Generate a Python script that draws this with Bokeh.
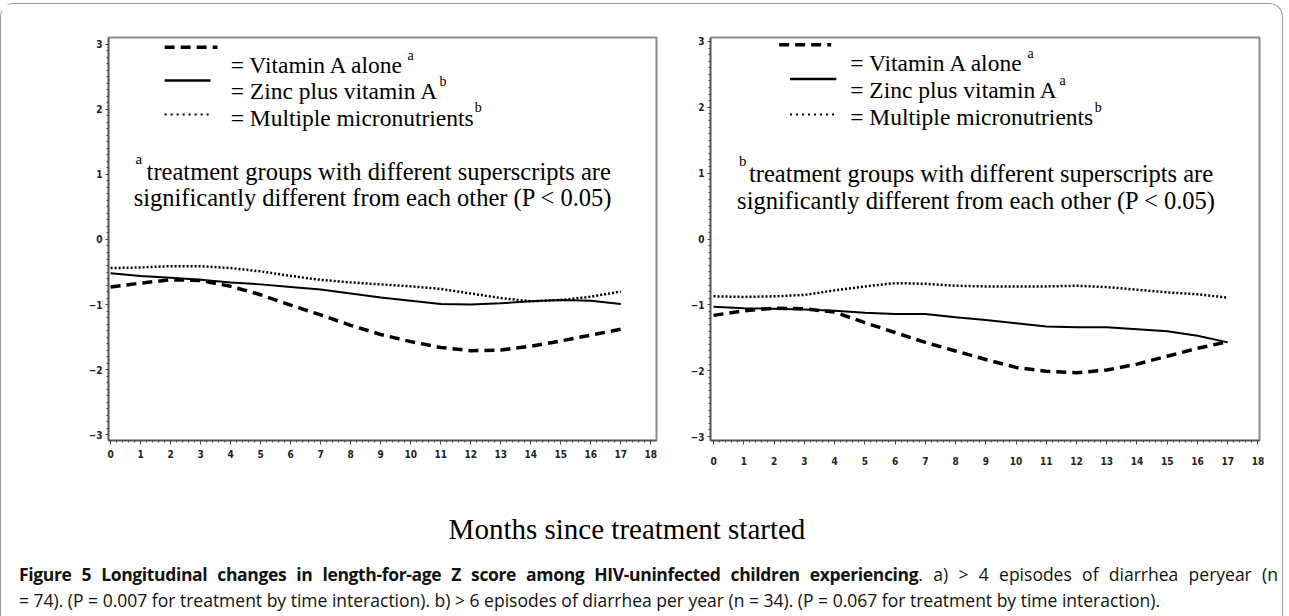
from math import pi
from bokeh.plotting import figure
from bokeh.models import Range1d, Label, Div, FixedTicker, Spacer
from bokeh.layouts import column, row
from bokeh.embed import file_html
from bokeh.resources import INLINE

# ---------------- data ----------------
months = list(range(18))
tick_months = list(range(19))
tick_z = [-3, -2, -1, 0, 1, 2, 3]

# panel a) > 4 episodes of diarrhea per year
a_vitA = [-0.73, -0.67, -0.62, -0.63, -0.72, -0.85, -1.01, -1.16, -1.32, -1.46,
          -1.57, -1.66, -1.71, -1.70, -1.64, -1.56, -1.47, -1.38]
a_zinc = [-0.52, -0.56, -0.59, -0.62, -0.66, -0.69, -0.73, -0.77, -0.83, -0.89,
          -0.94, -0.99, -1.00, -0.98, -0.95, -0.93, -0.94, -0.99]
a_multi = [-0.44, -0.43, -0.41, -0.41, -0.44, -0.49, -0.56, -0.62, -0.66, -0.69,
           -0.72, -0.76, -0.83, -0.90, -0.95, -0.93, -0.88, -0.80]

# panel b) > 6 episodes of diarrhea per year
b_vitA = [-1.16, -1.09, -1.05, -1.06, -1.11, -1.27, -1.42, -1.57, -1.70, -1.83,
          -1.95, -2.01, -2.03, -1.99, -1.90, -1.78, -1.66, -1.56]
b_zinc = [-1.03, -1.05, -1.06, -1.07, -1.09, -1.12, -1.14, -1.14, -1.19, -1.23,
          -1.28, -1.33, -1.34, -1.34, -1.37, -1.40, -1.47, -1.57]
b_multi = [-0.87, -0.88, -0.87, -0.85, -0.78, -0.72, -0.67, -0.68, -0.71, -0.72,
           -0.72, -0.72, -0.71, -0.73, -0.77, -0.81, -0.84, -0.89]

legend_names = ["= Vitamin A alone", "= Zinc plus vitamin A", "= Multiple micronutrients"]
a_sups = ["a", "b", "b"]
b_sups = ["a", "a", "b"]
foot_line1 = "treatment groups with different superscripts are"
foot_line2 = "significantly different from each other (P < 0.05)"
y_title = "Length for age Z score"
x_title = "Months since treatment started"
cap_bold = "Figure 5 Longitudinal changes in length-for-age Z score among HIV-uninfected children experiencing"
cap_rest1 = ". a) &gt; 4 episodes of diarrhea peryear (n"
cap_rest2 = ("= 74). (P = 0.007 for treatment by time interaction). b) &gt; 6 episodes of "
             "diarrhea per year (n = 34). (P = 0.067 for treatment by time interaction).")

# ---------------- styles ----------------
TICK_FONT = "'Liberation Sans Narrow', 'DejaVu Sans Condensed', sans-serif"
SERIF = "'Liberation Serif', 'Times New Roman', serif"
DASH = "10 6"
DOT = "2 2"
DOT_SAMPLE = "2 4"
LEG_SIZE = "23.5px"
FOOT_SIZE = "24.5px"


def make_panel(width, mb_left, mb_right, mb_top, mb_bottom, xr, yr, xstd):
    p = figure(width=width, height=478, x_range=Range1d(*xr), y_range=Range1d(*yr),
               output_backend="svg", toolbar_location=None,
               min_border_left=mb_left, min_border_right=mb_right,
               min_border_top=mb_top, min_border_bottom=mb_bottom)
    p.grid.visible = False
    p.outline_line_color = "#8c8c8c"
    p.outline_line_width = 2
    p.background_fill_color = "white"
    p.border_fill_color = "white"
    p.xaxis.ticker = FixedTicker(ticks=tick_months,
                                 minor_ticks=[round(i * 0.2, 1) for i in range(91)])
    p.yaxis.ticker = FixedTicker(ticks=tick_z,
                                 minor_ticks=[round(i * 0.1 - 3, 1) for i in range(61)])
    for ax in (p.xaxis[0], p.yaxis[0]):
        ax.axis_line_color = "#555555"
        ax.axis_line_width = 1.5
        ax.major_tick_line_color = "#444444"
        ax.minor_tick_line_color = "#444444"
        ax.major_tick_in = 0
        ax.minor_tick_in = 0
        ax.major_tick_out = 4
        ax.minor_tick_out = 2
        ax.major_label_text_font = TICK_FONT
        ax.major_label_text_font_style = "bold"
        ax.major_label_text_font_size = "10px"
        ax.major_label_text_color = "#222222"
    p.yaxis.major_tick_out = 3
    p.yaxis.major_label_standoff = 3
    p.xaxis.major_label_standoff = xstd
    return p


def draw_series(p, vitA, zinc, multi):
    p.line(months, vitA, line_color="black", line_width=3.5, line_dash=DASH)
    p.line(months, zinc, line_color="black", line_width=2)
    p.line(months, multi, line_color="black", line_width=2.5, line_dash=DOT)


def add_legend(p, samples, text_x, base_y, sups, sup_x, sup_y, foot):
    # legend samples (decoration)
    (dx0, dx1, dy), (sx0, sx1, sy), (ox0, ox1, oy) = samples
    p.line([dx0, dx1], [dy, dy], line_color="black", line_width=3.5, line_dash=DASH)
    p.line([sx0, sx1], [sy, sy], line_color="black", line_width=2.5)
    p.line([ox0, ox1], [oy, oy], line_color="black", line_width=2, line_dash=DOT_SAMPLE)
    for name, y, s, sx, sy in zip(legend_names, base_y, sups, sup_x, sup_y):
        p.add_layout(Label(x=text_x, y=y, text=name, text_font=SERIF,
                           text_font_size=LEG_SIZE, text_baseline="alphabetic",
                           text_color="black"))
        p.add_layout(Label(x=sx, y=sy, text=s, text_font=SERIF,
                           text_font_size="14px", text_baseline="alphabetic",
                           text_color="black"))
    (fs, fsx, fsy), (f1x, f1y), (f2x, f2y) = foot
    p.add_layout(Label(x=fsx, y=fsy, text=fs, text_font=SERIF, text_font_size="15px",
                       text_baseline="alphabetic", text_color="black"))
    p.add_layout(Label(x=f1x, y=f1y, text=foot_line1, text_font=SERIF,
                       text_font_size=FOOT_SIZE, text_baseline="alphabetic", text_color="black"))
    p.add_layout(Label(x=f2x, y=f2y, text=foot_line2, text_font=SERIF,
                       text_font_size=FOOT_SIZE, text_baseline="alphabetic", text_color="black"))


# ---------------- panel a ----------------
p1 = make_panel(681, 107, 26, 33, 32, (-0.07, 18.19), (-3.09, 3.105), 5)
draw_series(p1, a_vitA, a_zinc, a_multi)
add_legend(p1,
           samples=[(1.80, 3.56, 2.955), (1.80, 3.33, 2.445), (1.80, 3.30, 1.92)],
           text_x=4.0, base_y=[2.685, 2.28, 1.875],
           sups=a_sups, sup_x=[9.89, 10.96, 12.13], sup_y=[2.835, 2.43, 2.025],
           foot=[("a", 0.83, 1.23), (1.2, 1.05), (0.77, 0.645)])
p1.add_layout(Label(x=-2.0, y=-0.78, text=y_title, angle=pi / 2, text_font=SERIF,
                    text_font_size="25px", text_align="center", text_baseline="middle",
                    text_color="black"))

# ---------------- panel b ----------------
p2 = make_panel(590, 28, 13, 32, 42, (-0.1, 18.05), (-3.06, 3.06), 12)
draw_series(p2, b_vitA, b_zinc, b_multi)
add_legend(p2,
           samples=[(2.17, 3.89, 2.95), (2.53, 4.06, 2.43), (2.53, 4.0, 1.89)],
           text_x=4.52, base_y=[2.67, 2.26, 1.85],
           sups=b_sups, sup_x=[10.38, 11.44, 12.6], sup_y=[2.82, 2.41, 2.0],
           foot=[("b", 0.84, 1.19), (1.17, 1.0), (0.78, 0.59)])

# ---------------- texts below ----------------
xl = Div(width=1271, height=62,
         text=f'<div style="width:1242px;text-align:center;padding-top:26px;'
              f'font-family:{SERIF};font-size:29px;line-height:32px;color:black;'
              f'white-space:nowrap">{x_title}</div>')
cap = Div(width=1271, height=54,
          text=f"<div style=\"padding-left:13px;padding-top:2px;line-height:26px;"
               f"font-family:'Open Sans',sans-serif;font-size:17.5px;color:#111\">"
               f"<div style=\"width:1259px;text-align:justify;text-align-last:justify;"
               f"white-space:nowrap\"><b style=\"letter-spacing:-0.35px\">{cap_bold}</b>"
               f"{cap_rest1}</div>"
               f"<div style=\"white-space:nowrap\">{cap_rest2}</div></div>")

framed = column(row(p1, p2), xl, cap,
                styles={"border": "1px solid #9a9a9a", "border-bottom": "none",
                        "border-radius": "14px 14px 0 0"})
layout = column(Spacer(width=1273, height=3), framed)

open("out.html", "w").write(file_html(layout, INLINE))
